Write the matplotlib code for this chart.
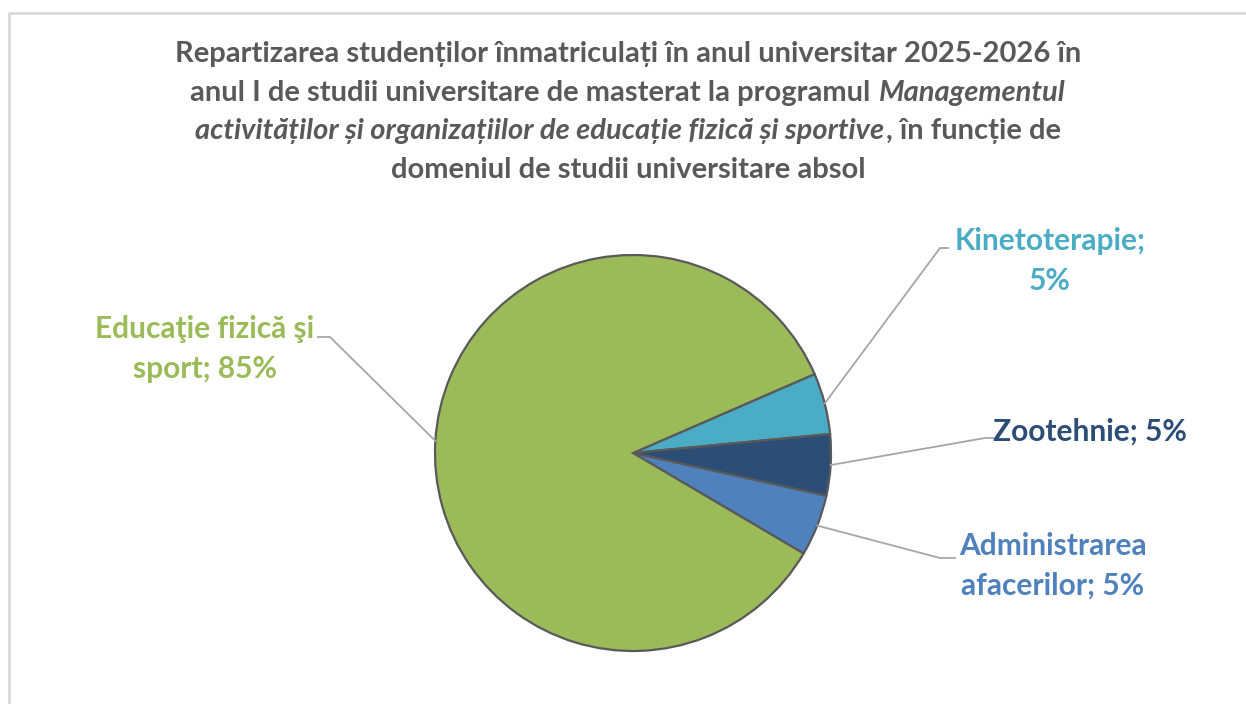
import numpy as np
import matplotlib.pyplot as plt
from matplotlib.offsetbox import TextArea, HPacker, VPacker, AnnotationBbox

plt.rcParams['font.family'] = ['Lato', 'DejaVu Sans']

# date (ordinea in sensul acelor de ceas, pornind de la Kinetoterapie)
domenii = ['Kinetoterapie', 'Zootehnie', 'Administrarea afacerilor', 'Educaţie fizică şi sport']
procente = [5, 5, 5, 85]
culori = ['#4BACC6', '#2C4D75', '#4F81BD', '#9BBB59']
etichete = ['Kinetoterapie;\n5%', 'Zootehnie; 5%', 'Administrarea\nafacerilor; 5%', 'Educaţie fizică şi\nsport; 85%']

W, H = 1246, 704
fig = plt.figure(figsize=(W / 100, H / 100), dpi=100)
ax = fig.add_axes([0, 0, 1, 1])

# chenarul graficului
ax.plot([9, 9, W + 5], [-5, H - 13, H - 13], color='#D9D9D9', lw=2, solid_capstyle='butt')

cx, cy, r = 633, H - 453, 198
wedges, _ = ax.pie(procente, colors=culori, startangle=23.5, counterclock=False,
                   center=(cx, cy), radius=r, frame=True,
                   wedgeprops=dict(edgecolor='#595959', linewidth=1.6))
ax.set_xlim(0, W)
ax.set_ylim(0, H)
ax.set_aspect('equal')
ax.axis('off')

# pozitiile etichetelor (x text, y text, ha, cot leader, capat leader)
pozitii = [
    (1050, 261, 'center', (940, 248), (948, 248)),
    (993, 432, 'left', (985, 438), (993, 438)),
    (1053, 566, 'center', (940, 558), (955, 558)),
    (205, 349, 'center', (330, 337), (318, 337)),
]

for w, et, col, (tx, ty, ha, cot, capat) in zip(wedges, etichete, culori, pozitii):
    mid = np.deg2rad((w.theta1 + w.theta2) / 2)
    x0 = cx + r * np.cos(mid)
    y0 = cy + r * np.sin(mid)
    ax.plot([x0, cot[0], capat[0]], [y0, H - cot[1], H - capat[1]],
            color='#A6A6A6', lw=1.3, zorder=1)
    ax.text(tx, H - ty, et, color=col, fontsize=21.5, fontweight='bold',
            ha=ha, va='center', multialignment='center', linespacing=1.5)

# titlul, cu portiuni italice
gri = '#595959'
def bucata(t, italic=False):
    return TextArea(t, textprops=dict(color=gri, fontsize=21, fontweight='bold',
                                      fontstyle='italic' if italic else 'normal'))

linii = [
    HPacker(children=[bucata('Repartizarea studenților înmatriculați în anul universitar 2025-2026 în')], pad=0, sep=0),
    HPacker(children=[bucata('anul I de studii universitare de masterat la programul'),
                      bucata('Managementul', True)], pad=0, sep=6, align='baseline'),
    HPacker(children=[bucata('activităților și organizațiilor de educație fizică și sportive', True),
                      bucata(', în funcție de')], pad=0, sep=1, align='baseline'),
    HPacker(children=[bucata('domeniul de studii universitare absol')], pad=0, sep=0),
]
titlu = VPacker(children=linii, pad=0, sep=9, align='center')
ab = AnnotationBbox(titlu, (628, H - 41), xycoords='data', box_alignment=(0.5, 1),
                    frameon=False, pad=0)
ax.add_artist(ab)

fig.savefig('out.png', dpi=100, facecolor='white')
